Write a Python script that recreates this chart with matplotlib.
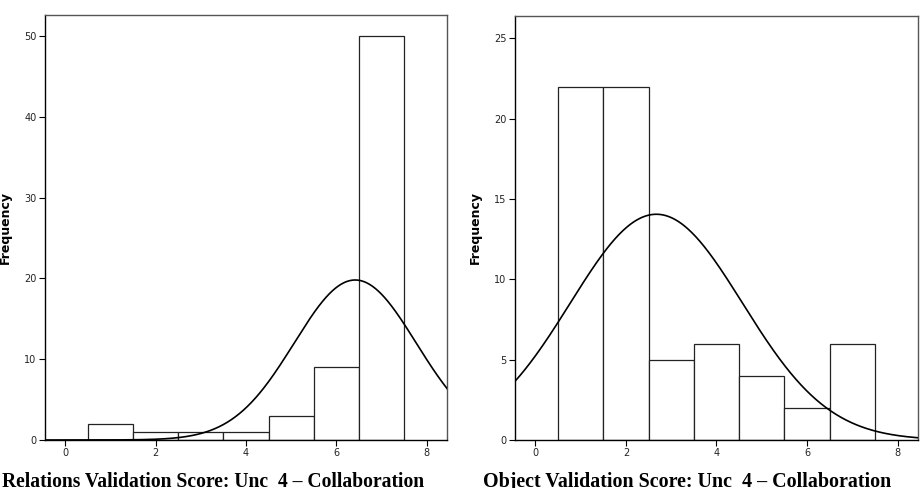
import numpy as np
import matplotlib
matplotlib.use("Agg")
import matplotlib.pyplot as plt

# score bins (1..7) and counts per panel
scores = [1, 2, 3, 4, 5, 6, 7]
relations_counts = [2, 1, 1, 1, 3, 9, 50]
object_counts = [22, 22, 5, 6, 4, 2, 6]

relations_title = "Relations Validation Score: Unc_4 \u2013 Collaboration"
object_title = "Object Validation Score: Unc_4 \u2013 Collaboration"

relations_yticks = [0, 10, 20, 30, 40, 50]
object_yticks = [0, 5, 10, 15, 20, 25]
xticks = [0, 2, 4, 6, 8]


def normal_overlay(ax, counts, xlim):
    x = np.array(scores, dtype=float)
    c = np.array(counts, dtype=float)
    n = c.sum()
    mu = (x * c).sum() / n
    sd = np.sqrt(((x - mu) ** 2 * c).sum() / (n - 1))
    xs = np.linspace(xlim[0], xlim[1], 400)
    ys = n * np.exp(-0.5 * ((xs - mu) / sd) ** 2) / (sd * np.sqrt(2 * np.pi))
    ax.plot(xs, ys, color="black", lw=1.2, zorder=3)


def panel(ax, counts, yticks, ylim):
    xlim = (-0.45, 8.45)
    ax.bar(scores, counts, width=1.0, color="white", edgecolor="#222222",
           linewidth=0.9, zorder=2)
    normal_overlay(ax, counts, xlim)
    ax.set_xlim(*xlim)
    ax.set_ylim(*ylim)
    ax.set_xticks(xticks)
    ax.set_yticks(yticks)
    ax.tick_params(labelsize=7, length=4, width=0.8, pad=2, colors="black",
                   labelcolor="#222222")
    for side in ("top", "right"):
        ax.spines[side].set_color("#555555")
        ax.spines[side].set_linewidth(1.0)
    for side in ("left", "bottom"):
        ax.spines[side].set_color("black")
        ax.spines[side].set_linewidth(1.0)
    ax.set_ylabel("Frequency", fontsize=9, fontweight="bold")


fig = plt.figure(figsize=(9.22, 4.88), dpi=100)
ax1 = fig.add_axes([0.0488, 0.0984, 0.436, 0.871])
ax2 = fig.add_axes([0.5586, 0.0984, 0.437, 0.869])

panel(ax1, relations_counts, relations_yticks, (0, 52.6))
panel(ax2, object_counts, object_yticks, (0, 26.4))

ax1.yaxis.set_label_coords(-0.083, 0.5)
ax2.yaxis.set_label_coords(-0.083, 0.5)

title_kw = dict(ha="left", va="top", fontweight="bold",
                family="Liberation Serif")
fig.text(2 / 922, 1 - 472 / 488, relations_title, fontsize=14.1, **title_kw)
fig.text(483 / 922, 1 - 472 / 488, object_title, fontsize=14.4, **title_kw)

fig.savefig("out.png", dpi=100)
